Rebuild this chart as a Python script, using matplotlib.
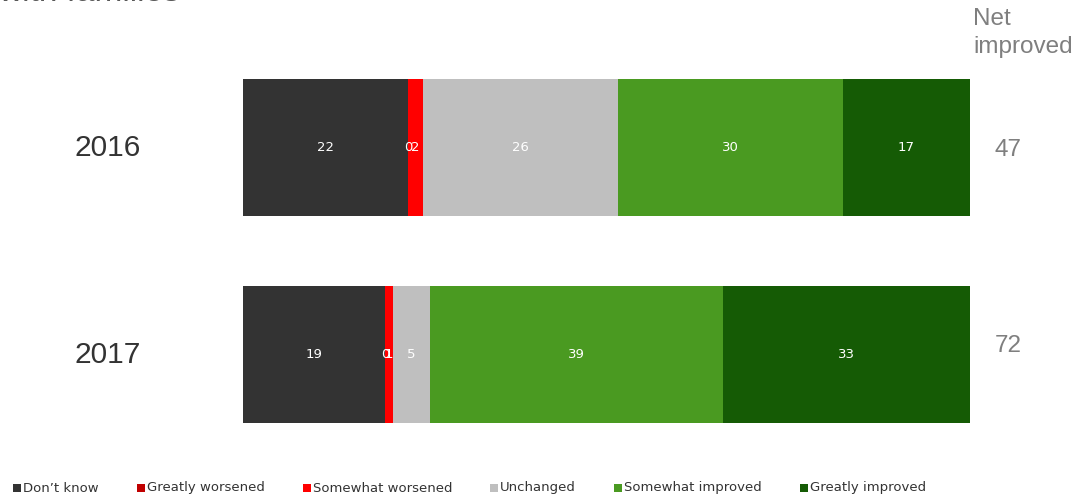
import numpy as np
import matplotlib.pyplot as plt
from matplotlib.patches import Rectangle

# Data
years = ['2016', '2017']
categories = ['Don\u2019t know', 'Greatly worsened', 'Somewhat worsened',
              'Unchanged', 'Somewhat improved', 'Greatly improved']
values = {
    'Don\u2019t know': [22, 19],
    'Greatly worsened': [0, 0],
    'Somewhat worsened': [2, 1],
    'Unchanged': [26, 5],
    'Somewhat improved': [30, 39],
    'Greatly improved': [17, 33],
}
net_improved = [47, 72]
colors = ['#333333', '#C00000', '#FF0000', '#BFBFBF', '#4A9A21', '#155B05']
legend_colors = ['#333333', '#C00000', '#FF0000', '#BFBFBF', '#4A9A21', '#155B05']

plt.rcParams['font.family'] = ['Liberation Sans', 'DejaVu Sans']

fig = plt.figure(figsize=(10.85, 4.97), dpi=100)
W, H = 1085, 497
ax = fig.add_axes([243 / W, 1 - 423 / H, (970 - 243) / W, (423 - 79) / H])

bar_h = 137 / 207
ypos = np.arange(len(years))
left = np.zeros(len(years))
for cat, col in zip(categories, colors):
    v = np.array(values[cat], dtype=float)
    ax.barh(ypos, v, left=left, height=bar_h, color=col, edgecolor='none')
    for i in range(len(years)):
        ax.text(left[i] + v[i] / 2, ypos[i], str(int(v[i])), ha='center', va='center',
                color='white', fontsize=9.5, family='DejaVu Sans')
    left += v

ax.set_xlim(0, left.max())
ax.set_ylim(1 + bar_h / 2, -bar_h / 2)
ax.axis('off')

# year labels
for i, y in enumerate(years):
    fig.text(108 / W, 1 - (148 + 207 * i) / H, y, ha='center', va='center',
             fontsize=21.5, color='#333333')

# net improved
fig.text(973 / W, 1 - 19 / H, 'Net', ha='left', va='center', fontsize=17.5, color='#7F7F7F')
fig.text(973 / W, 1 - 47 / H, 'improved', ha='left', va='center', fontsize=17.5, color='#7F7F7F')
net_y = [150, 346]
for n, yy in zip(net_improved, net_y):
    fig.text(1008 / W, 1 - yy / H, str(n), ha='center', va='center', fontsize=17.5, color='#7F7F7F')

# cut-off title
fig.text(-2 / W, 1 - 1 / H, 'with families', ha='left', va='baseline', fontsize=24, color='#595959')

# legend
leg_x = [13, 137, 303, 490, 614, 800]
for x, cat, col in zip(leg_x, categories, legend_colors):
    fig.patches.append(Rectangle((x / W, 1 - 492 / H), 8 / W, 8 / H, transform=fig.transFigure,
                                 facecolor=col, edgecolor='none'))
    fig.text((x + 10) / W, 1 - 488 / H, cat, ha='left', va='center', fontsize=9.5,
             color='#333333', family='DejaVu Sans')

fig.savefig('out.png', dpi=100)
